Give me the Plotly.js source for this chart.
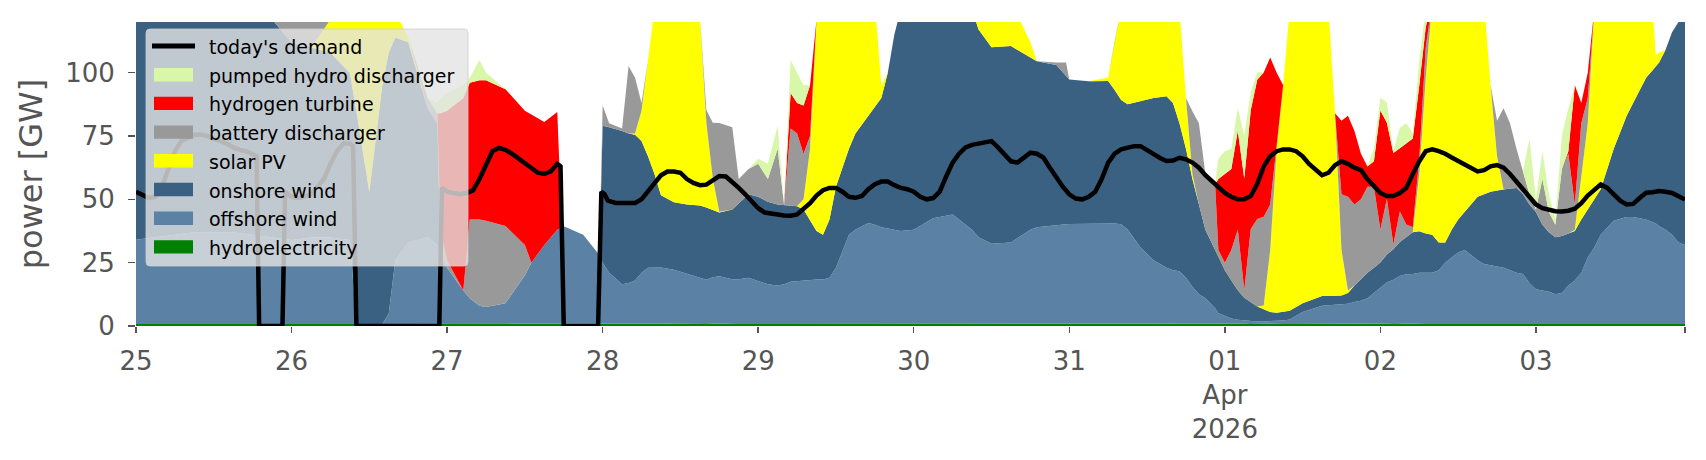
<!DOCTYPE html>
<html>
<head>
<meta charset="utf-8">
<script src="https://cdn.plot.ly/plotly-3.0.1.min.js"></script>
<style>
html,body{margin:0;padding:0;background:#fff;}
#chart{width:1706px;height:460px;}
</style>
</head>
<body>
<div id="chart"></div>
<script>
// ---- data (hours after 2026-03-25 00:00) ----
const startDate = Date.UTC(2026, 2, 25, 0, 0, 0);

const hours = [
  0,3,6,9,12,15,18,21,24,27,
  30,33,34,36,38,39,40,42,45,46.5,
  47,48,50.5,51.5,53,54,57,60,61,63,
  65,65.7,66,69,71.5,72,73,75,76,77,
  78,79,80,81,83,85,87,88,89,90,
  92,93,94.5,96,97.5,99,100,101,102,103,
  104,105,106,107,108,110,111,113,114,115,
  116,117,118,120,123,126,129,130,132,135,
  138,139,142,143.5,144,147,150,151,152,153,
  155,157,159,160,161,162,163,164,165,166.5,
  167,168,169,170,171,172,173,174,175,176,
  177,178,180,183,184,185,186,187,188,189,
  190,191,192,193,194,195,196,197,198,199,
  200,201,202,203,204,205,206,207,208,209,
  210,211,212,213,214,215,216,217,218,219,
  220,221,222,223,224,225,226,228,230,231,
  232,233,234,234.5,235,236,237,238,239
];

const hydroelectricity = [
  0.8,0.8,0.8,0.8,0.8,0.8,0.8,0.8,0.7,0.7,
  0.7,0.7,0.7,0.7,0.7,0.7,0.7,0.8,0.8,0.8,
  0.8,0.8,0.8,0.8,0.8,0.8,0.8,0.8,0.8,0.8,
  0.8,0.8,0.8,0.8,0.8,0.8,0.8,0.8,0.8,0.8,
  0.8,0.8,0.8,0.9,1.0,1.1,1.2,1.1,1.0,0.9,
  0.8,0.8,0.8,0.8,0.8,0.8,0.8,0.8,0.8,0.8,
  0.8,0.8,0.8,0.8,0.8,0.8,0.8,0.8,0.8,0.8,
  0.8,0.8,0.8,0.8,0.8,0.8,0.8,0.8,0.8,0.8,
  0.8,0.8,0.8,0.8,0.8,0.8,0.9,1.0,1.0,0.9,
  0.8,0.8,0.8,0.8,0.8,0.8,0.8,0.8,0.8,0.8,
  0.8,0.8,0.8,0.9,1.0,1.1,1.0,0.9,0.8,0.8,
  0.8,0.8,0.8,0.8,0.8,0.8,0.8,0.8,0.8,0.8,
  0.8,0.8,0.9,1.0,1.1,1.0,0.9,0.8,0.8,0.8,
  0.8,0.8,0.8,0.8,0.8,0.8,0.8,0.8,0.8,0.8,
  0.8,0.8,0.8,0.8,0.8,0.8,0.8,0.8,0.8,0.8,
  0.8,0.8,0.8,0.8,0.8,0.8,0.8,0.8,0.8,0.8,
  0.8,0.8,0.8,0.8,0.8,0.8,0.8,0.8,0.8
];

const offshoreWind = [
  33.2,34.2,35.2,36.2,36.2,36.2,35.2,34.2,33.2,34.2,
  34.2,33.2,0,0,0,4.2,25.2,32.2,34.2,31.2,
  27.2,22.2,13.2,10.2,7.2,6.7,8.2,19.2,24.2,31.2,
  37.2,38.2,38.6,35.2,27.2,24.2,20.2,15.7,16.2,17.2,
  20.2,22.2,22.2,22.2,21.2,19.5,17.7,17.2,18.2,18.7,
  17.7,17.7,18.2,16.9,15.7,15.2,15.7,16.7,16.9,17.2,
  17.6,17.6,17.6,18.2,22.2,35.2,37.2,39.9,39.2,38.2,
  37.7,37.2,36.7,37.2,41.7,43.2,37.2,34.2,31.7,32.2,
  37.2,38.2,39.2,39.4,39.5,39.5,39.5,39.5,39.2,37.2,
  30.2,25.2,22.2,21.2,20.8,18.2,14.7,11.7,10.2,6.2,
  4.2,3.2,2.2,1.6,1.2,1.0,0.8,0.9,1.1,1.2,
  1.4,1.8,4.7,7.2,7.4,7.5,7.7,8.0,8.7,9.2,
  10.2,12.2,14.2,16.2,17.2,18.7,19.5,19.7,20.2,20.2,
  20.2,21.2,24.2,26.2,28.2,29.2,27.2,25.2,23.7,23.2,
  22.7,22.2,21.2,20.2,19.7,16.2,13.7,13.2,12.7,11.7,
  12.2,15.2,17.2,20.2,26.2,30.2,35.2,40.7,42.2,42.2,
  41.7,41.2,40.2,39.7,38.7,37.2,35.2,32.2,31.2
];

const onshoreWind = [
  94,93,92,91,91,90,90,86,78,75,
  73,66,84.2,52.2,94.2,103,88,79,51,48,
  0,0,0,0,0,0,0,0,0,0,
  0,0,0,0,0,54,57.5,60.5,59,57.5,
  52,44,37,28.5,26.6,27.4,28.7,28.5,26.5,25.2,
  27.5,30,33,33.3,32.5,32,31.2,30,29.6,28,
  23.6,19.1,17.6,23,32,34,38,42.3,46,51,
  61.5,77,87.5,90,85.5,84,87,82,77.5,77.5,
  68,65.5,63,58.8,57,56.3,56.3,52.7,49,49.4,
  57.8,64,67.7,66,58.4,51,42.5,35.5,27,23,
  23,18,15,11.6,9,7.2,5.9,4.8,3.6,3.2,
  3.3,3.4,3.5,3.8,3.6,3.5,3.5,4.2,6.5,8.5,
  10,10,10,11,12,13.5,14.7,16.5,16.4,15.5,
  15,11,8,11,13,15,20,25,27.5,29,
  30,31,32.3,33.5,31.5,31,30.5,26,23.5,22.5,
  22.5,20.5,19.5,21,19,19,18,28.5,40,45,
  50.5,56,60,62,64.5,71,80,87,94
];

const solarPV = [
  0,0,0,0,0,0,0,0,0,0,
  13,25,40,72,30,17,10,2,0,0,
  0,0,0,0,0,0,0,0,0,0,
  0,0,0,0,0,0,0,0,0,0.5,
  12,38,65,76.5,79.4,80.3,74.8,33.5,12.5,0.3,
  0,0,0,0,0,0,0,0,0,4,
  28,83.5,92,86,73,58,52,45,42,5,
  0,0,0,0,0,0,0,11,18,17.5,
  6,0,0,0,0,0,1.4,19,36,40.6,
  39.2,38,37.3,40,45,20,2,0,0,0,
  0,0,0,0,0,0,0,1.5,24.5,64.8,
  89.5,119,119,116.2,113.2,72.2,18,1,0,0,
  0,0,0,0,0,0,0,0,22.6,61.5,
  92,95,95,90,86,83,80,77,76,42,
  13.5,0,0,0,0,0,0,0,0,0,
  0,0,0.5,18,34,75,74,58,45,40,
  35,30,24,4.5,4,0,0,0,0
];

const batteryDischarger = [
  0,0,0,0,0,0,0,0,12,13,
  2,0,0,0,0,0,0,0,4,4,
  10,3,0,31,34,34,30.5,12,0,0,
  0,0,0,0,0,8,1.5,1,26.6,22,
  3,0,0,0,0,0,0,5,22,35,
  32.5,9.5,10,13,9,22,0,30.5,28.7,18,
  5,0,0,0,0,0,0,0,0,0,
  0,0,0,0,0,0,0,0,0,0,
  0,0,1,5,0,0,0,0,0,0,
  0,0,0,0,0,0,24.8,32,22,26,
  2,3,12,24,3,29,34.5,35,18,2,
  0,0,0,0,0,0,22,37,32,31.5,
  34,32,13,22,2,12,5,2,6,12,
  0,0,0,0,0,0,0,0,0,0,
  14,32,25.7,15.5,9,4,1,18,8,5,
  26.5,31.5,10,20,10,0,0,0,0,0,
  0,0,0,0,0,0,0,0,0
];

const hydrogenTurbine = [
  0,0,0,0,0,0,0,0,0,0,
  0,0,0,0,0,0,0,0,0,0,
  46,59,76,54,55,55.5,54,53,58.5,48.5,
  46.5,0,0,0,0,0,0,0,0,0,
  0,0,0,0,0,0,0,0,0,0,
  0,0,0,0,0,0,0,14,12,19,
  20,0,0,0,0,0,0,0,0,0,
  0,0,0,0,0,0,0,0,0,0,
  0,0,0,0,0,0,0,0,0,0,
  0,0,0,0,0,0,0,0,0,0,
  28,35,32,39,44,47,55,57,58,28,
  0,0,0,0,0,0,29,32,29,18,
  8,10,47,30,36,25,32,35,29,8,
  0,0,0,0,0,0,0,0,0,0,
  0,0,0,0,0,0,0,0,0,0,
  0,1,47,8,10,0,0,0,0,0,
  0,0,0,0,0,0,0,0,0
];

const pumpedHydroDischarger = [
  0,0,0,0,0,0,0,0,0,0,
  0,0,0,0,0,0,0,0,0,4,
  6,7,5,2,8,3,0,0,0,0,
  0,0,0,0,0,0,0,0,0,0,
  0,0,0,0,0,0,0,0,0,0,
  0,0,0,2,6,9,0,13,12,8,
  0,0,0,0,0,0,0,0,0,0,
  0,0,0,0,0,0,0,0,0,0,
  0,0,0,0,0,0,0,0,0,0,
  0,0,0,0,0,0,0,0,0,0,
  8,9,8,9,17,7,3,0,0,0,
  0,0,0,0,0,0,0,0,0,0,
  0,5,5,8,1,8,8,2,10,7,
  0,0,0,0,0,0,0,0,0,0,
  0,0,0,0,0,22,4,11,7,2,
  13,17,0,0,0,0,0,0,0,0,
  0,0,0,0,0,0,0,0,0
];

const demandHours = [
  0,1,2,3,4,5,6,7,8,9,
  10,11,12,13,14,15,16,17,18,18.6,
  19,22.6,23,24,25,26,27,28,29,30,
  31,32,33,33.5,34,46.8,47.2,48,49,50,
  51,52,53,54,55,56,57,58,59,60,
  61,62,63,64,65,65.5,66,71.3,71.8,72.3,
  72.8,74,76,77,78,79,80,81,82,83,
  84,85,86,87,88,89,90,91,92,93,
  94,95,96,97,98,99,100,101,102,103,
  104,105,106,107,108,109,110,111,112,113,
  114,115,116,117,118,119,120,121,122,123,
  124,125,126,127,128,129,130,131,132,133,
  134,135,136,137,138,139,140,141,142,143,
  144,145,146,147,148,149,150,151,152,153,
  154,155,156,157,158,159,160,161,162,163,
  164,165,166,167,168,169,170,171,172,173,
  174,175,176,177,178,179,180,181,182,183,
  184,185,186,187,188,189,190,191,192,193,
  194,195,196,197,198,199,200,201,202,203,
  204,205,206,207,208,209,210,211,212,213,
  214,215,216,217,218,219,220,221,222,223,
  224,225,226,227,228,229,230,231,232,233,
  234,235,236,237,238,239
];

const todaysDemand = [
  53,51.5,50.5,51,55,62,69,73,74.5,75.5,
  75.5,75,74,73,72,70.5,69.5,69,68,67,
  0,0,53,51,50.5,51,52,55,58,64,
  69,72,72,71,0,0,54.5,53,52.5,52,
  52.5,53.5,58,64,69,70.3,69.5,68,66,64.5,
  62,60.5,60,61,64,63,0,0,53,52,
  49.5,48.6,48.6,48.6,50,53,56.5,59.5,61,61,
  60.5,58,56.5,55.6,55.8,57.5,59.2,59,57,54.5,
  52,49.3,46.5,44.8,44.2,44,43.6,43.5,44,46,
  48.5,51.5,53.6,54.5,54.5,53,51,50.6,51.3,54,
  56,57,57,55.6,54.5,54,53,51,50,50.5,
  53,59,64.5,68,70.5,71.5,72,72.5,73,70.5,
  67.5,65,64.5,66.5,68.4,68,66.5,62.5,58.5,55,
  52,50.3,50,51,53,58,64.5,68,69.7,70.5,
  71,71,69.5,67.5,66.3,65.1,65.3,66.4,65.8,64.5,
  62.5,59.5,57,54.5,52.5,51,50,50,51.3,56,
  63,67,69,69.7,69.7,69,67,64,61.5,59.5,
  60.5,63.5,65,64,62.5,61.5,58,55,52.5,51.3,
  51.3,52.5,54.5,60,65,69,69.7,69,68,66.5,
  65,63.5,62,61,61.5,63,63.5,62.5,60,57,
  54.5,51,48,46.5,45.8,45.3,45.2,45.5,46.3,48.5,
  51.5,54,55.9,54.5,52,49.5,48,48.2,50.5,52.6,
  52.8,53.3,53,52.5,51.2,49.9
];

const tickHours = [0,24,48,72,96,120,144,168,192,216,239];
const tickLabels = ['25','26','27','28','29','30','31','01<br>Apr<br>2026','02','03',''];
const demandName = "today's demand";

// ---- helpers ----
function toDate(h){
  const d = new Date(startDate + h*3600000);
  return d.toISOString().slice(0,19).replace('T',' ');
}
const xs = hours.map(toDate);

const series = [
  {name:'hydroelectricity', y:hydroelectricity, color:'#008000'},
  {name:'offshore wind', y:offshoreWind, color:'#5b82a5'},
  {name:'onshore wind', y:onshoreWind, color:'#3b6182'},
  {name:'solar PV', y:solarPV, color:'#ffff00'},
  {name:'battery discharger', y:batteryDischarger, color:'#999999'},
  {name:'hydrogen turbine', y:hydrogenTurbine, color:'#ff0000'},
  {name:'pumped hydro discharger', y:pumpedHydroDischarger, color:'#d9f7a8'}
];

const traces = series.map(s => ({
  type:'scatter', mode:'lines', x:xs, y:s.y, name:s.name,
  stackgroup:'gen', showlegend:false,
  line:{width:0, color:s.color}, fillcolor:s.color, hoverinfo:'skip'
}));
traces.push({
  type:'scatter', mode:'lines', x:demandHours.map(toDate), y:todaysDemand,
  name:demandName, showlegend:false,
  line:{color:'#000000', width:4.5}, hoverinfo:'skip'
});

// ---- hand-drawn legend (matplotlib-like), pixel geometry -> paper coords ----
const PL = 136, PR = 1685, PT = 22, PB = 326;
const px = v => (v - PL) / (PR - PL);
const py = v => (PB - v) / (PB - PT);
const shapes = [];
const annotations = [];
{
  const x0 = 146, x1 = 468, y0 = 29, y1 = 266, r = 4;
  const X0 = px(x0), X1 = px(x1), Yt = py(y0), Yb = py(y1);
  const rx = r / (PR - PL), ry = r / (PB - PT);
  const path = `M${X0+rx},${Yt} L${X1-rx},${Yt} Q${X1},${Yt} ${X1},${Yt-ry} ` +
    `L${X1},${Yb+ry} Q${X1},${Yb} ${X1-rx},${Yb} L${X0+rx},${Yb} Q${X0},${Yb} ${X0},${Yb+ry} ` +
    `L${X0},${Yt-ry} Q${X0},${Yt} ${X0+rx},${Yt} Z`;
  shapes.push({type:'path', xref:'paper', yref:'paper', path:path, layer:'above',
    fillcolor:'rgba(227,227,227,0.8)', line:{color:'rgba(205,205,205,0.8)', width:1}});
  const entries = [{name:demandName, color:'#000000', line:true}]
    .concat(series.slice().reverse().map(s => ({name:s.name, color:s.color, line:false})));
  const rowTop = 46, rowStep = 28.7;
  entries.forEach((e, i) => {
    const cy = rowTop + i * rowStep;
    if (e.line) {
      shapes.push({type:'line', xref:'paper', yref:'paper', layer:'above',
        x0:px(152), x1:px(195), y0:py(cy), y1:py(cy), line:{color:e.color, width:5}});
    } else {
      shapes.push({type:'rect', xref:'paper', yref:'paper', layer:'above',
        x0:px(154), x1:px(193), y0:py(cy - 6.7), y1:py(cy + 6.7),
        fillcolor:e.color, line:{width:0}});
    }
    annotations.push({xref:'paper', yref:'paper', x:px(207), y:py(cy + 1),
      xanchor:'left', yanchor:'middle', showarrow:false, text:e.name,
      font:{family:'DejaVu Sans', size:19, color:'#000000'}});
  });
}

const layout = {
  width:1706, height:460,
  margin:{l:PL, r:1706-PR, t:PT, b:460-PB},
  paper_bgcolor:'#ffffff', plot_bgcolor:'#ffffff',
  font:{family:'DejaVu Sans', color:'#555555'},
  showlegend:false,
  shapes:shapes, annotations:annotations,
  xaxis:{
    type:'date', range:[toDate(0), toDate(239)],
    tickmode:'array', tickvals:tickHours.map(toDate), ticktext:tickLabels,
    ticks:'outside', ticklen:6, tickwidth:1.5, tickcolor:'#555555',
    ticklabelstandoff:6,
    showgrid:false, zeroline:false, showline:false,
    tickfont:{family:'DejaVu Sans', size:26, color:'#555555'}
  },
  yaxis:{
    range:[0,120], tickmode:'array', tickvals:[0,25,50,75,100],
    ticks:'outside', ticklen:7, tickwidth:1.5, tickcolor:'#555555',
    ticklabelstandoff:8,
    showgrid:false, zeroline:false, showline:false,
    tickfont:{family:'DejaVu Sans', size:26, color:'#555555'},
    title:{text:'power [GW]', font:{family:'DejaVu Sans', size:32, color:'#555555'}, standoff:12}
  }
};

Plotly.newPlot('chart', traces, layout, {displayModeBar:false, staticPlot:true});
</script>
</body>
</html>
